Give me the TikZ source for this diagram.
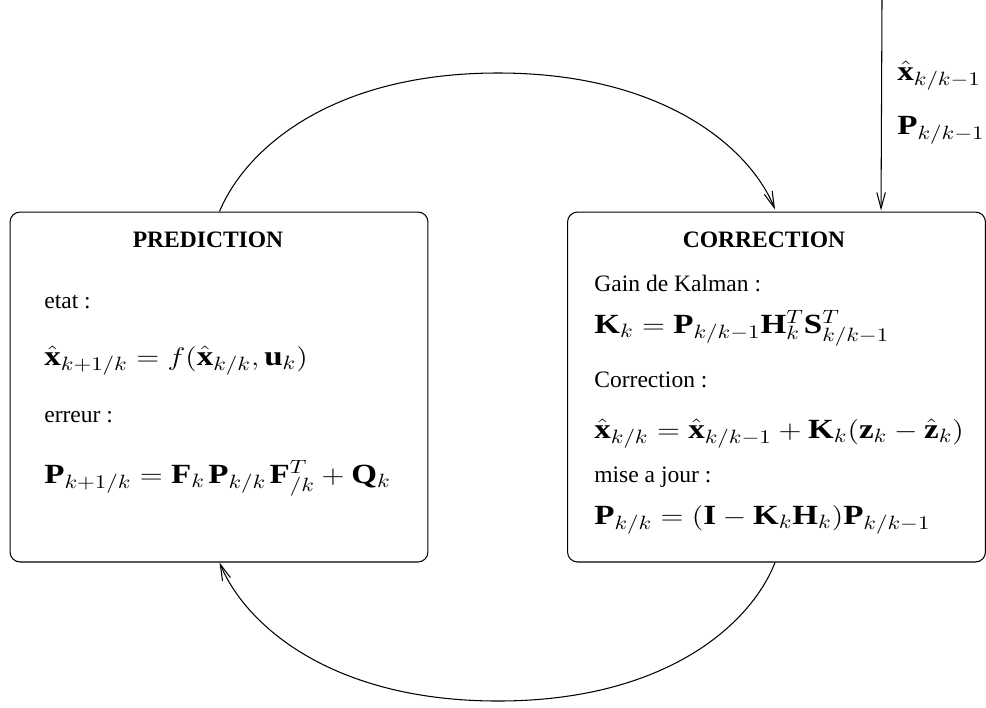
\documentclass[tikz,border=0pt]{standalone}
\usepackage{fontspec}
\setmainfont{Liberation Serif}
\usetikzlibrary{arrows.meta,calc}
\newcommand{\txtsz}{\fontsize{13.4pt}{16pt}\selectfont}
\newcommand{\meq}[1]{\scalebox{1.19}[1]{\fontsize{15.8pt}{19pt}\selectfont$#1$}}
\begin{document}
\begin{tikzpicture}[x=0.02cm,y=-0.02cm,
  box/.style={draw,line width=0.6pt,rounded corners=0.2cm,minimum width=8.36cm,minimum height=7cm,inner sep=0pt},
  conn/.style={line width=0.6pt,-{Straight Barb[length=0.32cm,width=0.17cm]}},
  ttl/.style={font=\txtsz\bfseries,anchor=center,inner sep=0pt},
  lbl/.style={font=\txtsz,anchor=base west,inner sep=0pt},
  eqn/.style={anchor=base west,inner sep=0pt}]
\useasboundingbox (0,0) rectangle (986,707);
% boxes
\node[box] (pred) at (219,387) {};
\node[box] (corr) at (776.5,387) {};
% prediction content
\node[ttl] (ptitle) at (208,240) {PREDICTION};
\node[lbl] (etat) at (44,308) {etat :};
\node[eqn] (eq1) at (44,365) {\meq{\hat{\mathbf{x}}_{k+1/k} = f(\hat{\mathbf{x}}_{k/k}, \mathbf{u}_k)}};
\node[lbl] (err) at (44,422) {erreur :};
\node[eqn] (eq2) at (44,483) {\meq{\mathbf{P}_{k+1/k} = \mathbf{F}_k\mkern2mu\mathbf{P}_{k/k}\mkern2mu\mathbf{F}^T_{/k} + \mathbf{Q}_k}};
% correction content
\node[ttl] (ctitle) at (764,240) {CORRECTION};
\node[lbl] (gain) at (594,291) {Gain de Kalman :};
\node[eqn] (eq3) at (594,333) {\meq{\mathbf{K}_k = \mathbf{P}_{k/k-1}\mathbf{H}_k^T\mathbf{S}^T_{k/k-1}}};
\node[lbl] (corl) at (594,387) {Correction :};
\node[eqn] (eq4) at (594,438) {\meq{\hat{\mathbf{x}}_{k/k} = \hat{\mathbf{x}}_{k/k-1} + \mathbf{K}_k(\mathbf{z}_k - \hat{\mathbf{z}}_k)}};
\node[lbl] (maj) at (594,482) {mise a jour :};
\node[eqn] (eq5) at (594,524) {\meq{\mathbf{P}_{k/k} = \mathbf{(}\mathbf{I} - \mathbf{K}_k\mathbf{H}_k\mathbf{)}\mathbf{P}_{k/k-1}}};
% input labels
\node[eqn] (inx) at (897,80) {\meq{\hat{\mathbf{x}}_{k/k-1}}};
\node[eqn] (inp) at (897,134) {\meq{\mathbf{P}_{k/k-1}}};
% connector end points
\coordinate (p1) at ($(pred.north west)+(210,0)$);
\coordinate (c1) at ($(corr.north west)+(208,-2)$);
\coordinate (c2) at ($(corr.south west)+(208,0)$);
\coordinate (p2) at ($(pred.south west)+(210,0)$);
\coordinate (top) at (498,73);
\coordinate (bot) at (498,701);
\coordinate (src) at (882,0);
\coordinate (dst) at ($(corr.north west)+(314,-1)$);
% connectors
\draw[conn] (p1) .. controls (245,150) and (330,73) .. (top)
  .. controls (666,73) and (751,150) .. (c1);
\draw[conn] (c2) .. controls (751,624) and (666,701) .. (bot)
  .. controls (330,701) and (245,624) .. (p2);
\draw[conn] (src) -- (dst);
\end{tikzpicture}
\end{document}
